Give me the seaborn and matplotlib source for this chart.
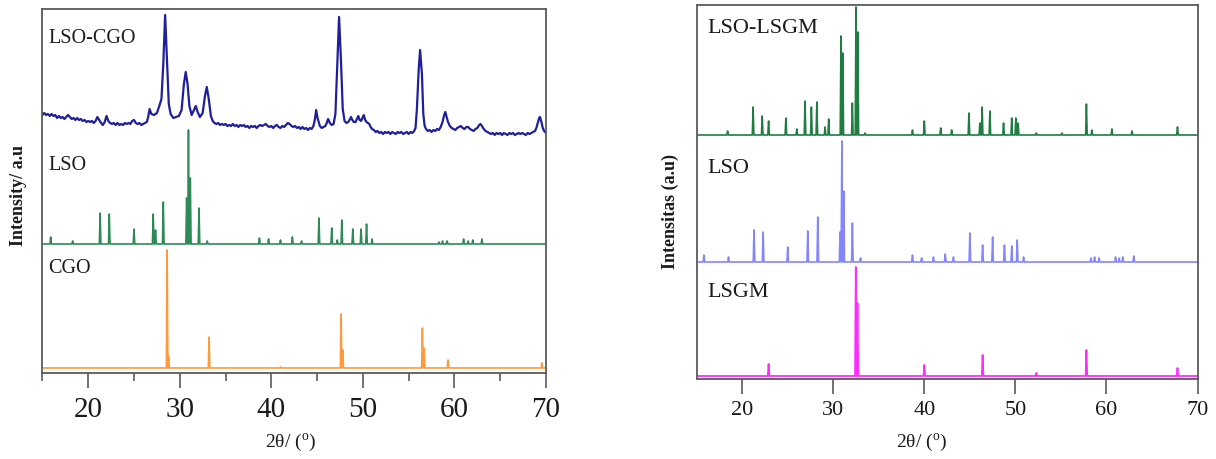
import numpy as np
import seaborn as sns
import matplotlib.pyplot as plt

# ---------------------------------------------------------------------------
# XRD patterns (2θ in degrees, intensity in arbitrary units)
# ---------------------------------------------------------------------------

# Left panel -----------------------------------------------------------------
cgo_pos = [28.62, 28.78, 33.2, 41.0, 47.62, 47.8, 56.5, 56.68, 59.3, 69.55]
cgo_int = [118, 12, 31, 1, 54, 18, 40, 20, 8, 5]

lso_a_pos = [15.9, 18.3, 21.3, 22.3, 25.0, 27.1, 27.35, 28.2, 30.75, 30.95,
             31.15, 32.1, 33.0, 38.7, 39.7, 41.0, 42.3, 43.3, 45.2, 46.6,
             47.2, 47.7, 48.9, 49.8, 50.4, 51.0, 58.3, 58.7, 59.2, 61.0,
             61.5, 62.0, 63.0]
lso_a_int = [7, 3, 31, 30, 15, 30, 14, 42, 46, 114,
             66, 36, 3, 6, 5, 4, 7, 3, 26, 16,
             4, 24, 15, 15, 20, 5, 2, 3, 3, 5,
             3, 4, 5]

# measured LSO-CGO scan as (2θ, intensity) pairs
lso_cgo_scan = [
    (15.0, 19), (15.2, 21), (15.4, 19), (15.6, 20), (15.8, 18), (16.0, 20),
    (16.2, 18), (16.4, 19), (16.6, 16), (16.8, 18), (17.0, 16), (17.2, 17),
    (17.4, 15), (17.6, 17), (17.8, 19), (18.0, 17), (18.2, 15), (18.4, 16),
    (18.6, 14), (18.8, 16), (19.0, 14), (19.2, 15), (19.4, 13), (19.6, 14),
    (19.8, 12), (20.0, 13), (20.2, 12), (20.4, 13), (20.6, 11), (20.8, 13),
    (21.0, 17), (21.2, 14), (21.4, 11), (21.6, 9), (21.8, 12), (22.0, 18),
    (22.2, 13), (22.4, 11), (22.6, 10), (22.8, 11), (23.0, 9), (23.2, 11),
    (23.4, 9), (23.6, 10), (23.8, 9), (24.0, 11), (24.2, 10), (24.4, 11),
    (24.6, 10), (24.8, 13), (25.0, 14), (25.2, 11), (25.4, 10), (25.6, 11),
    (25.8, 9), (26.0, 10), (26.2, 11), (26.4, 12),
    (26.55, 17), (26.7, 25), (26.9, 20), (27.2, 19), (27.5, 21), (27.8, 29),
    (28.0, 35), (28.2, 70), (28.4, 119), (28.6, 75), (28.8, 30), (29.0, 20),
    (29.3, 16), (29.6, 17), (29.9, 18), (30.2, 24), (30.45, 50), (30.65, 62),
    (30.85, 50), (31.05, 28), (31.3, 19), (31.55, 24), (31.75, 28),
    (31.95, 22), (32.2, 17), (32.5, 21), (32.75, 38), (32.95, 47),
    (33.15, 36), (33.4, 18), (33.6, 13),
    (33.8, 11), (34.0, 10), (34.2, 11), (34.4, 9), (34.6, 10), (34.8, 9),
    (35.0, 10), (35.2, 8), (35.4, 9), (35.6, 8), (35.8, 10), (36.0, 8),
    (36.2, 9), (36.4, 7), (36.6, 9), (36.8, 8), (37.0, 9), (37.2, 7),
    (37.4, 8), (37.6, 6), (37.8, 8), (38.0, 7), (38.2, 8), (38.4, 6),
    (38.6, 8), (38.8, 9), (39.0, 8), (39.2, 9), (39.4, 10), (39.6, 8),
    (39.8, 7), (40.0, 8), (40.2, 6), (40.4, 8), (40.6, 9), (40.8, 7),
    (41.0, 6), (41.2, 8), (41.4, 7), (41.6, 9), (41.8, 11), (42.0, 10),
    (42.2, 8), (42.4, 7), (42.6, 8), (42.8, 6), (43.0, 7), (43.2, 5),
    (43.4, 7), (43.6, 5), (43.8, 6), (44.0, 4), (44.2, 6), (44.4, 5),
    (44.6, 8),
    (44.75, 14), (44.9, 24), (45.05, 16), (45.3, 8), (45.5, 6), (45.7, 7),
    (45.9, 8), (46.05, 11), (46.2, 15), (46.4, 11), (46.6, 9), (46.8, 10),
    (47.0, 20), (47.2, 70), (47.4, 117), (47.6, 75), (47.8, 25), (48.0, 13),
    (48.2, 11), (48.4, 12), (48.6, 15), (48.7, 17), (48.85, 14), (49.0, 12),
    (49.2, 12), (49.35, 15), (49.5, 18), (49.65, 14), (49.8, 13),
    (49.95, 16), (50.1, 19), (50.25, 14), (50.4, 12), (50.55, 11),
    (50.7, 10), (50.85, 7), (51.0, 5),
    (51.2, 4), (51.4, 2), (51.6, 3), (51.8, 1), (52.0, 2), (52.2, 0),
    (52.4, 2), (52.6, 1), (52.8, 2), (53.0, 0), (53.2, 2), (53.4, 1),
    (53.6, 0), (53.8, 2), (54.0, 1), (54.2, 2), (54.4, 0), (54.6, 1),
    (54.8, 2), (55.0, 0), (55.2, 2), (55.4, 1), (55.6, 3),
    (55.75, 6), (55.9, 25), (56.1, 65), (56.25, 84), (56.45, 60), (56.6, 20),
    (56.75, 8), (56.9, 5), (57.1, 3), (57.3, 4), (57.5, 2), (57.7, 4),
    (57.9, 3), (58.1, 5), (58.3, 4), (58.5, 7), (58.7, 12), (58.85, 18),
    (59.0, 22), (59.15, 17), (59.3, 12), (59.5, 8), (59.7, 6), (59.9, 5),
    (60.1, 4), (60.3, 6), (60.5, 7), (60.7, 8), (60.9, 6), (61.1, 5),
    (61.3, 7), (61.5, 7), (61.7, 5), (61.9, 4), (62.1, 3), (62.3, 5),
    (62.5, 6), (62.7, 9), (62.85, 10), (63.0, 8), (63.2, 5), (63.4, 3),
    (63.6, 2),
    (63.8, 1), (64.0, 0), (64.2, 1), (64.4, -1), (64.6, 1), (64.8, 0),
    (65.0, 1), (65.2, -1), (65.4, 1), (65.6, 0), (65.8, -1), (66.0, 1),
    (66.2, 0), (66.4, 1), (66.6, -1), (66.8, 0), (67.0, 1), (67.2, 0),
    (67.4, 1), (67.6, 0), (67.8, -1), (68.0, 1), (68.2, 0), (68.4, 1),
    (68.6, 2), (68.8, 3),
    (68.95, 6), (69.1, 11), (69.25, 16), (69.35, 17), (69.5, 12),
    (69.65, 6), (69.8, 3), (69.9, 2), (70.0, 1),
]

# Right panel ----------------------------------------------------------------
lsgm_pos = [22.9, 32.48, 32.66, 40.0, 46.4, 52.3, 57.8, 67.8]
lsgm_int = [12, 109, 73, 11, 21, 3, 26, 8]

lso_b_pos = [15.8, 18.5, 21.3, 22.3, 25.0, 27.2, 28.3, 30.75, 30.95, 31.15,
             32.1, 33.0, 38.7, 39.7, 41.0, 42.3, 43.2, 45.0, 46.4, 47.5,
             48.8, 49.6, 50.2, 50.9, 58.3, 58.7, 59.2, 61.0, 61.4, 61.8,
             63.0]
lso_b_int = [7, 5, 32, 30, 15, 31, 45, 30, 121, 71,
             39, 4, 7, 4, 5, 8, 5, 29, 17, 25,
             17, 16, 22, 5, 4, 5, 4, 5, 4, 5,
             6]

lso_lsgm_pos = [18.4, 21.2, 22.2, 22.9, 24.8, 26.0, 26.9, 27.6, 28.2, 29.1,
                29.5, 30.85, 31.05, 32.1, 32.5, 32.7, 33.5, 38.7, 40.0, 41.8,
                43.0, 44.9, 46.1, 46.35, 47.2, 48.7, 49.6, 50.05, 50.3, 52.3,
                55.1, 57.8, 58.4, 60.6, 62.8, 67.8]
lso_lsgm_int = [4, 28, 19, 14, 17, 6, 34, 28, 33, 8,
                16, 99, 82, 32, 128, 103, 2, 5, 14, 7,
                5, 22, 12, 28, 24, 12, 17, 17, 12, 2,
                2, 31, 5, 6, 4, 8]

# vertical stacking of the patterns
left_offsets = {"CGO": 5, "LSO": 129, "LSO-CGO": 239}
right_offsets = {"LSGM": 3, "LSO": 117, "LSO-LSGM": 244}


def stick_profile(pos, ints, half_width=0.085, lo=15.0, hi=70.0):
    """Narrow triangular reflections on a flat baseline."""
    xs, ys = [lo], [0.0]
    for p, h in zip(pos, ints):
        xs += [p - half_width, p, p + half_width]
        ys += [0.0, h, 0.0]
    xs.append(hi)
    ys.append(0.0)
    return np.array(xs), np.array(ys)


sns.set_theme(style="white")
plt.rcParams["font.family"] = ["Liberation Serif", "DejaVu Serif"]
plt.rcParams["mathtext.fontset"] = "custom"
plt.rcParams["mathtext.rm"] = "Liberation Serif"

fig = plt.figure(figsize=(12.16, 4.59), dpi=100)
ax_l = fig.add_axes([0.0349, 0.1874, 0.4141, 0.7930])
ax_r = fig.add_axes([0.5729, 0.1743, 0.4119, 0.8148])

spine_color = "#5a5a5a"
text_color = "#1a1a1a"

# ---- left panel
x, y = stick_profile(cgo_pos, cgo_int)
sns.lineplot(x=x, y=y + left_offsets["CGO"], ax=ax_l, color="#ff9a3c",
             lw=1.2, estimator=None, sort=False)
x, y = stick_profile(lso_a_pos, lso_a_int)
sns.lineplot(x=x, y=y + left_offsets["LSO"], ax=ax_l, color="#2e8b57",
             lw=1.2, estimator=None, sort=False)
scan_x = np.array([p[0] for p in lso_cgo_scan])
scan_y = np.array([p[1] for p in lso_cgo_scan], float)
sns.lineplot(x=scan_x, y=scan_y + left_offsets["LSO-CGO"], ax=ax_l,
             color="#1f1f9e", lw=1.6, estimator=None, sort=False)

ax_l.set_xlim(15, 70)
ax_l.set_ylim(0, 364)
ax_l.set_xticks([20, 30, 40, 50, 60, 70])
ax_l.set_xticks([15, 25, 35, 45, 55, 65], minor=True)
ax_l.set_yticks([])
ax_l.tick_params(axis="x", which="major", direction="out", length=11,
                 width=1.2, color=spine_color, labelsize=21, pad=6,
                 bottom=True)
ax_l.tick_params(axis="x", which="minor", direction="out", length=6,
                 width=1.2, color=spine_color, bottom=True)
ax_l.set_xlabel("")
ax_l.set_ylabel("")

for name, yy in [("LSO-CGO", 0.920), ("LSO", 0.571), ("CGO", 0.288)]:
    ax_l.text(0.012, yy, name, transform=ax_l.transAxes, fontsize=14.5,
              ha="left", va="center", color=text_color)

# ---- right panel
x, y = stick_profile(lsgm_pos, lsgm_int)
sns.lineplot(x=x, y=y + right_offsets["LSGM"], ax=ax_r, color="#ff2cff",
             lw=1.3, estimator=None, sort=False)
x, y = stick_profile(lso_b_pos, lso_b_int)
sns.lineplot(x=x, y=y + right_offsets["LSO"], ax=ax_r, color="#8585ff",
             lw=1.2, estimator=None, sort=False)
x, y = stick_profile(lso_lsgm_pos, lso_lsgm_int)
sns.lineplot(x=x, y=y + right_offsets["LSO-LSGM"], ax=ax_r, color="#1f7d42",
             lw=1.2, estimator=None, sort=False)

ax_r.set_xlim(15, 70)
ax_r.set_ylim(0, 374)
ax_r.set_xticks([20, 30, 40, 50, 60, 70])
ax_r.set_yticks([])
ax_r.tick_params(axis="x", which="major", direction="out", length=11,
                 width=1.2, color=spine_color, labelsize=16, pad=5,
                 bottom=True)
ax_r.set_xlabel("")
ax_r.set_ylabel("")

for name, yy in [("LSO-LSGM", 0.9385), ("LSO", 0.564), ("LSGM", 0.2326)]:
    ax_r.text(0.021, yy, name, transform=ax_r.transAxes, fontsize=16,
              ha="left", va="center", color=text_color)

for ax in (ax_l, ax_r):
    for sp in ax.spines.values():
        sp.set_color(spine_color)
        sp.set_linewidth(1.3)
        sp.set_visible(True)
    ax.tick_params(axis="x", labelcolor=text_color)

xlabel = r"2θ/ ($^{\mathregular{o}}$)"
fig.text(0.239, 0.036, xlabel, ha="center", va="center", fontsize=14,
         color=text_color)
fig.text(0.758, 0.036, xlabel, ha="center", va="center", fontsize=14,
         color=text_color)
fig.text(0.015, 0.575, "Intensity/ a.u", rotation=90, ha="center",
         va="center", fontsize=13, fontweight="bold", color=text_color)
fig.text(0.551, 0.540, "Intensitas (a.u)", rotation=90, ha="center",
         va="center", fontsize=13, fontweight="bold", color=text_color)

fig.savefig("out.png", dpi=100, facecolor="white")
